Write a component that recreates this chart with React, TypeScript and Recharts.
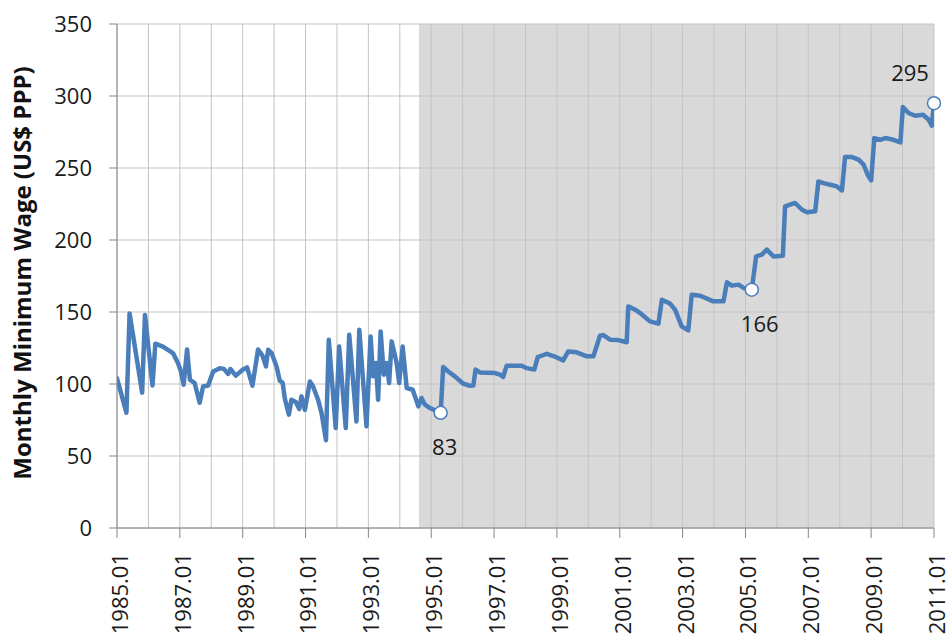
import React from "react";
import {
  LineChart,
  Line,
  XAxis,
  YAxis,
  ReferenceArea,
  ReferenceLine,
  ReferenceDot,
} from "recharts";

// time (decimal year) of each vertex of the wage line
const times = [
  1985.0, 1985.3, 1985.4, 1985.8, 1985.89, 1986.13, 1986.22, 1986.46, 1986.78, 1986.94,
  1987.03, 1987.12, 1987.23, 1987.32, 1987.47, 1987.63, 1987.74, 1987.9, 1988.06, 1988.27,
  1988.4, 1988.54, 1988.61, 1988.78, 1989.01, 1989.14, 1989.31, 1989.49, 1989.63, 1989.74,
  1989.81, 1989.92, 1990.08, 1990.18, 1990.27, 1990.34, 1990.47, 1990.55, 1990.69, 1990.8,
  1990.87, 1990.98, 1991.14, 1991.24, 1991.4, 1991.51, 1991.65, 1991.74, 1991.96, 1992.07,
  1992.28, 1992.39, 1992.62, 1992.71, 1992.94, 1993.07, 1993.15, 1993.24, 1993.31, 1993.39,
  1993.49, 1993.58, 1993.66, 1993.74, 1993.9, 1993.98, 1994.09, 1994.22, 1994.41, 1994.59,
  1994.69, 1994.8, 1994.96, 1995.12, 1995.3, 1995.38, 1995.54, 1995.75, 1996.02, 1996.23,
  1996.34, 1996.41, 1996.55, 1997.03, 1997.19, 1997.29, 1997.4, 1997.88, 1998.04, 1998.28,
  1998.39, 1998.68, 1998.89, 1999.2, 1999.36, 1999.63, 1999.95, 2000.16, 2000.37, 2000.48,
  2000.69, 2000.95, 2001.22, 2001.27, 2001.49, 2001.65, 2001.96, 2002.23, 2002.34, 2002.6,
  2002.76, 2002.97, 2003.18, 2003.29, 2003.56, 2003.98, 2004.3, 2004.41, 2004.57, 2004.78,
  2004.94, 2005.2, 2005.34, 2005.52, 2005.68, 2005.89, 2006.19, 2006.26, 2006.58, 2006.8,
  2006.96, 2007.22, 2007.32, 2007.48, 2007.7, 2007.91, 2008.07, 2008.17, 2008.39, 2008.6,
  2008.76, 2008.89, 2009.0, 2009.1, 2009.29, 2009.45, 2009.71, 2009.93, 2010.01, 2010.19,
  2010.4, 2010.65, 2010.83, 2010.93, 2011.0,
];

// Monthly minimum wage (US$ PPP) at each vertex
const wages = [
  104, 80, 149, 94, 148, 99, 128, 126, 121.5, 114.6,
  109, 99.5, 124, 103, 100.7, 87, 98.3, 99, 108.7, 111,
  110.5, 107, 110.4, 105.8, 110, 111.5, 98.8, 124, 119.7, 112.2,
  123.8, 121.5, 112, 102.3, 101, 90, 78.7, 89, 87.5, 82.6,
  91.4, 82, 101.8, 98.3, 89, 79.8, 61, 130.8, 69.4, 126,
  69.4, 134.2, 74, 137.7, 70.6, 133, 105.3, 114.6, 89, 136.5,
  106.5, 114.6, 100.7, 129.6, 114.6, 100.7, 126, 97.2, 96, 84.5,
  90.3, 85.6, 83.3, 81.7, 80, 111.8, 108.7, 105.3, 100.2, 98.8,
  99, 110, 108, 107.6, 106.5, 104.9, 112.7, 112.7, 111, 110,
  118.7, 121, 119.4, 116.4, 122.6, 122, 119.2, 119.2, 133.5, 134,
  130.8, 130.5, 129, 153.9, 151.6, 149.3, 143.5, 141.9, 158.5, 155.8,
  151.6, 140, 137.2, 162, 161.3, 157.4, 157.4, 170.6, 168.3, 169,
  166.7, 165.5, 188.6, 189.8, 193.3, 188.6, 189, 223.3, 225.7, 221,
  219.2, 219.9, 240.7, 239.5, 238.4, 237.2, 234.4, 257.6, 257.6, 255.8,
  252.3, 245.3, 241.4, 270.8, 269.6, 270.8, 269.6, 267.8, 292.4, 288.2,
  286.3, 287, 283.5, 279.4, 295,
];

// highlighted points and their labels
const markerTimes = [1995.3, 2005.2, 2011.0];
const markerValues = [80, 165.5, 295];
const markerLabels = ["83", "166", "295"];

// axes
const tickYears = [1985, 1987, 1989, 1991, 1993, 1995, 1997, 1999, 2001, 2003, 2005, 2007, 2009, 2011];
const tickLabels = ["1985.01", "1987.01", "1989.01", "1991.01", "1993.01", "1995.01", "1997.01", "1999.01", "2001.01", "2003.01", "2005.01", "2007.01", "2009.01", "2011.01"];
const gridYears = [
  1985, 1986, 1987, 1988, 1989, 1990, 1991, 1992, 1993, 1994, 1995, 1996, 1997, 1998,
  1999, 2000, 2001, 2002, 2003, 2004, 2005, 2006, 2007, 2008, 2009, 2010, 2011,
];
const yTicks = [0, 50, 100, 150, 200, 250, 300, 350];
const shadeStart = 1994.61;
const shadeEnd = 2011;
const yLabel = "Monthly Minimum Wage (US$ PPP)";

const data = times.map((t, i) => ({ t, v: wages[i] }));

const FONT = "'Open Sans', 'DejaVu Sans', sans-serif";
const LINE = "#4a7ebb";
const GRID = "#c4c4c4";
const AXIS = "#868686";

const labelOffsets = [
  { dx: 4, dy: 34 },
  { dx: 8, dy: 34 },
  { dx: -24, dy: -30 },
];

const XTick = (props: any) => {
  const { x, y, payload } = props;
  const idx = tickYears.indexOf(payload.value);
  const label = idx >= 0 ? tickLabels[idx] : String(payload.value);
  const ax = x + 3;
  return (
    <text
      x={ax}
      y={y}
      transform={`rotate(-90, ${ax}, ${y})`}
      textAnchor="end"
      dy="0.36em"
      fontSize={22}
      fontFamily={FONT}
      fill="#1a1a1a"
    >
      {label}
    </text>
  );
};

const YTick = (props: any) => {
  const { x, y, payload } = props;
  return (
    <text x={x} y={y} textAnchor="end" dy="0.36em" fontSize={22} fontFamily={FONT} fill="#1a1a1a">
      {payload.value}
    </text>
  );
};

export default function App() {
  return (
    <div
      style={{
        position: "fixed",
        left: 0,
        top: 0,
        width: 946,
        height: 641,
        overflow: "hidden",
        background: "#ffffff",
      }}
    >
      <LineChart
        width={946}
        height={700}
        data={data}
        margin={{ top: 24, right: 12, bottom: 72, left: 0 }}
      >
        <XAxis
          dataKey="t"
          type="number"
          domain={[1985, 2011]}
          ticks={tickYears}
          allowDataOverflow
          interval={0}
          height={100}
          stroke={AXIS}
          tickSize={10}
          tickMargin={15}
          tick={<XTick />}
        />
        <YAxis
          type="number"
          domain={[0, 350]}
          ticks={yTicks}
          width={117}
          stroke={AXIS}
          tickSize={8}
          tickMargin={17}
          tick={<YTick />}
          label={{
            content: () => (
              <text
                x={22}
                y={273}
                transform="rotate(-90, 22, 273)"
                textAnchor="middle"
                dy="0.36em"
                fontSize={24}
                fontWeight="bold"
                fontFamily={FONT}
                fill="#111"
              >
                {yLabel}
              </text>
            ),
          }}
        />
        <ReferenceArea
          x1={shadeStart}
          x2={shadeEnd}
          y1={0}
          y2={350}
          fill="#d9d9d9"
          fillOpacity={1}
          stroke="none"
        />
        {gridYears.map((yr) => (
          <ReferenceLine key={"gx" + yr} x={yr} stroke={GRID} strokeWidth={1} />
        ))}
        {yTicks.map((v) => (
          <ReferenceLine key={"gy" + v} y={v} stroke={GRID} strokeWidth={1} />
        ))}
        <Line
          type="linear"
          dataKey="v"
          stroke={LINE}
          strokeWidth={4.5}
          strokeLinejoin="round"
          strokeLinecap="round"
          dot={false}
          activeDot={false}
          isAnimationActive={false}
        />
        {markerTimes.map((t, i) => (
          <ReferenceDot
            key={"m" + i}
            x={t}
            y={markerValues[i]}
            r={6.5}
            fill="#ffffff"
            stroke={LINE}
            strokeWidth={1.5}
            ifOverflow="visible"
            label={{
              content: (p: any) => {
                const vb = p.viewBox || {};
                const cx = (vb.x ?? 0) + (vb.width ?? 0) / 2;
                const cy = (vb.y ?? 0) + (vb.height ?? 0) / 2;
                return (
                  <text
                    x={cx + labelOffsets[i].dx}
                    y={cy + labelOffsets[i].dy}
                    textAnchor="middle"
                    dy="0.36em"
                    fontSize={22}
                    fontFamily={FONT}
                    fill="#1a1a1a"
                  >
                    {markerLabels[i]}
                  </text>
                );
              },
            }}
          />
        ))}
      </LineChart>
    </div>
  );
}
